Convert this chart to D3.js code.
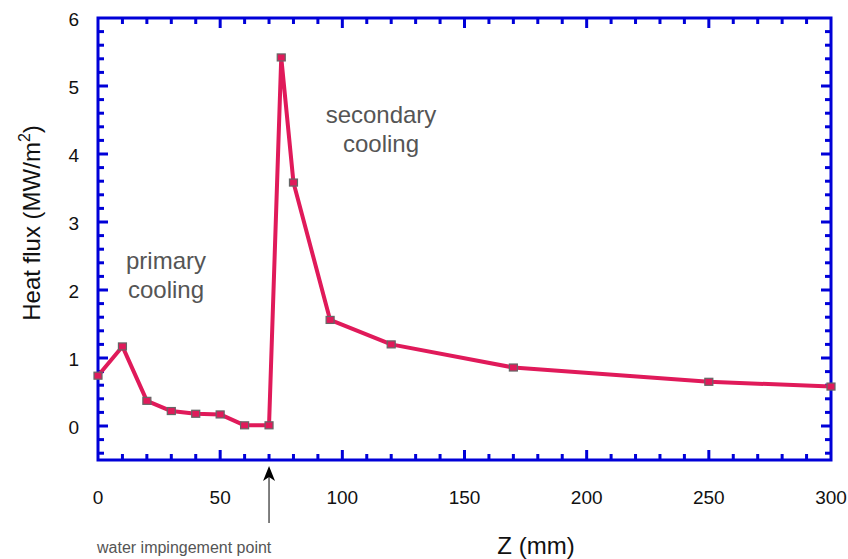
<!DOCTYPE html>
<html>
<head>
<meta charset="utf-8">
<script src="https://cdn.jsdelivr.net/npm/d3@7/dist/d3.min.js"></script>
<style>
  html, body { margin: 0; padding: 0; background: #fff; }
  svg { display: block; font-family: "Liberation Sans", Arial, sans-serif; }
</style>
</head>
<body>
<svg id="chart" width="848" height="559"></svg>
<script>
// Heat flux along the strand, position Z in mm
const zValues = [0, 10, 20, 30, 40, 50, 60, 70, 75, 80, 95, 120, 170, 250, 300];
const heatFlux = [0.74, 1.17, 0.37, 0.22, 0.18, 0.17, 0.01, 0.01, 5.42, 3.58, 1.56, 1.2, 0.86, 0.65, 0.58];
const xTicks = [0, 50, 100, 150, 200, 250, 300];
const yTicks = [0, 1, 2, 3, 4, 5, 6];
const impingementZ = 70;

const svg = d3.select("#chart");
const plotLeft = 98, plotRight = 831, plotTop = 18, plotBottom = 460;

const x = d3.scaleLinear().domain([0, 300]).range([plotLeft, plotRight]);
const y = d3.scaleLinear().domain([-0.5, 6]).range([plotBottom, plotTop]);

const axisColor = "#0000d8";
const lineColor = "#e01a5a";

// Frame
const frame = svg.append("g");
frame.append("rect")
  .attr("x", plotLeft).attr("y", plotTop)
  .attr("width", plotRight - plotLeft).attr("height", plotBottom - plotTop)
  .attr("fill", "none").attr("stroke", axisColor).attr("stroke-width", 3);

// Inward ticks on all four sides
const xMinor = d3.range(0, 301, 10);
const yMinor = d3.range(-0.4, 6.001, 0.2).map(v => +v.toFixed(1));
const isMajorX = v => v % 50 === 0;
const isMajorY = v => Math.abs(v - Math.round(v)) < 1e-6;

xMinor.filter(v => v > 0 && v < 300).forEach(v => {
  const len = isMajorX(v) ? 10 : 6;
  frame.append("line").attr("x1", x(v)).attr("x2", x(v))
    .attr("y1", plotBottom).attr("y2", plotBottom - len)
    .attr("stroke", axisColor).attr("stroke-width", 3);
  frame.append("line").attr("x1", x(v)).attr("x2", x(v))
    .attr("y1", plotTop).attr("y2", plotTop + len)
    .attr("stroke", axisColor).attr("stroke-width", 3);
});
yMinor.filter(v => v > -0.5 && v < 6).forEach(v => {
  const len = isMajorY(v) ? 10 : 6;
  frame.append("line").attr("y1", y(v)).attr("y2", y(v))
    .attr("x1", plotLeft).attr("x2", plotLeft + len)
    .attr("stroke", axisColor).attr("stroke-width", 3);
  frame.append("line").attr("y1", y(v)).attr("y2", y(v))
    .attr("x1", plotRight).attr("x2", plotRight - len)
    .attr("stroke", axisColor).attr("stroke-width", 3);
});

// Tick labels
svg.append("g").selectAll("text").data(xTicks).join("text")
  .attr("x", d => x(d)).attr("y", 504)
  .attr("text-anchor", "middle").attr("font-size", 19).attr("fill", "#111")
  .text(d => d);
svg.append("g").selectAll("text").data(yTicks).join("text")
  .attr("x", 79).attr("y", d => y(d) + 8)
  .attr("text-anchor", "end").attr("font-size", 19).attr("fill", "#111")
  .text(d => d);

// Axis titles
svg.append("text").attr("x", 536).attr("y", 554)
  .attr("text-anchor", "middle").attr("font-size", 24).attr("fill", "#111")
  .text("Z (mm)");
const yTitle = svg.append("text")
  .attr("transform", "translate(40,223) rotate(-90)")
  .attr("text-anchor", "middle").attr("font-size", 24).attr("fill", "#111");
yTitle.append("tspan").text("Heat flux (MW/m");
yTitle.append("tspan").attr("dy", -10).attr("font-size", 16).text("2");
yTitle.append("tspan").attr("dy", 10).text(")");

// Data line and markers
const line = d3.line().x((d, i) => x(zValues[i])).y(d => y(d));
svg.append("path").datum(heatFlux)
  .attr("d", line).attr("fill", "none")
  .attr("stroke", lineColor).attr("stroke-width", 4)
  .attr("stroke-linejoin", "round");
svg.append("g").selectAll("rect").data(heatFlux).join("rect")
  .attr("x", (d, i) => x(zValues[i]) - 4).attr("y", d => y(d) - 3.5)
  .attr("width", 8).attr("height", 7)
  .attr("fill", lineColor).attr("stroke", "#666").attr("stroke-width", 1.2);

// Annotations
const note = (cx, lines, y0) => {
  const t = svg.append("text").attr("text-anchor", "middle")
    .attr("font-size", 24).attr("fill", "#555");
  lines.forEach((s, i) => t.append("tspan").attr("x", cx).attr("y", y0 + i * 29).text(s));
};
note(166, ["primary", "cooling"], 269);
note(381, ["secondary", "cooling"], 123);

// Water impingement arrow
const ax = x(impingementZ);
svg.append("line").attr("x1", ax).attr("x2", ax)
  .attr("y1", 523).attr("y2", 476)
  .attr("stroke", "#555").attr("stroke-width", 1.5);
svg.append("path")
  .attr("d", `M${ax},466 L${ax - 6},481 L${ax},477 L${ax + 6},481 Z`)
  .attr("fill", "#000");
svg.append("text").attr("x", 97).attr("y", 553)
  .attr("font-size", 16).attr("fill", "#555")
  .text("water impingement point");
</script>
</body>
</html>
